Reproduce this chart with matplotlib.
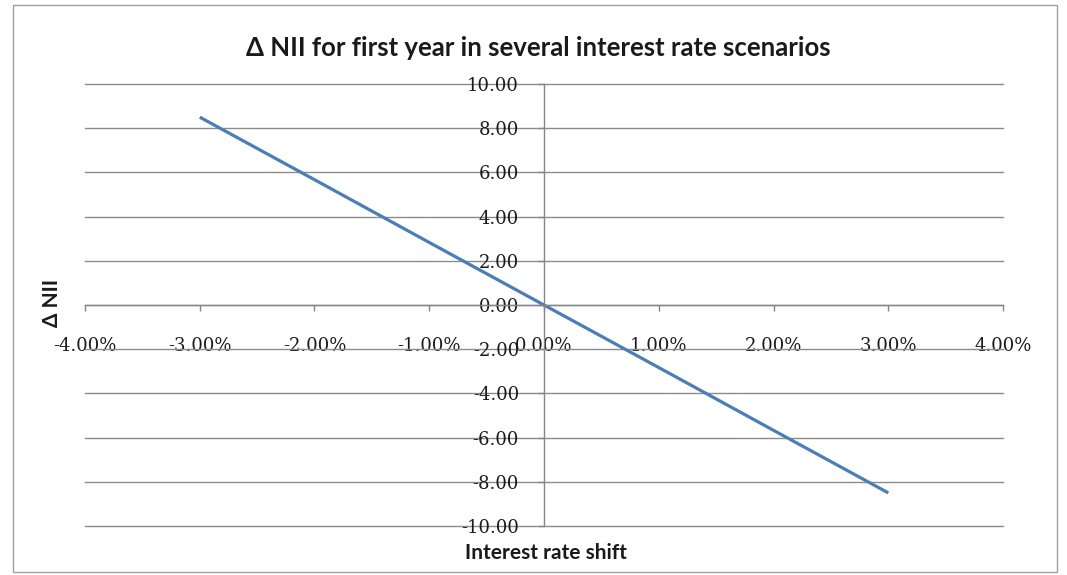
import matplotlib
matplotlib.use("Agg")
import matplotlib.pyplot as plt
from matplotlib.patches import Rectangle
from matplotlib.ticker import FuncFormatter, MultipleLocator

# interest rate shift (fraction) and change in net interest income
shifts = [-0.03, -0.02, -0.01, 0.0, 0.01, 0.02, 0.03]
delta_nii = [8.5, 5.67, 2.83, 0.0, -2.83, -5.67, -8.5]

title = "\u0394 NII for first year in several interest rate scenarios"
xlabel = "Interest rate shift"
ylabel = "\u0394 NII"

W, H = 1067, 575
fig = plt.figure(figsize=(W / 100, H / 100), dpi=100)
fig.patch.set_facecolor("white")

# plot area in pixels: x 85..1003, y 84..526
ax = fig.add_axes([85 / W, 1 - 526 / H, 918 / W, 442 / H])
ax.plot(shifts, delta_nii, color="#4A7EBB", lw=2.3, solid_capstyle="butt")

ax.set_xlim(-0.04, 0.04)
ax.set_ylim(-10, 10)
ax.xaxis.set_major_locator(MultipleLocator(0.01))
ax.yaxis.set_major_locator(MultipleLocator(2))
ax.xaxis.set_major_formatter(FuncFormatter(lambda v, p: f"{v * 100:.2f}%".replace("-0.00", "0.00")))
ax.yaxis.set_major_formatter(FuncFormatter(lambda v, p: f"{v:.2f}".replace("-0.00", "0.00")))

# excel style: axes crossing at zero
for s in ["top", "right"]:
    ax.spines[s].set_visible(False)
ax.spines["left"].set_position(("data", 0))
ax.spines["bottom"].set_position(("data", 0))
for s in ["left", "bottom"]:
    ax.spines[s].set_color("#868686")
    ax.spines[s].set_linewidth(1.0)

ax.yaxis.grid(True, color="#8c8c8c", lw=1.0)
for gl in ax.get_ygridlines():
    gl.set_clip_on(False)
ax.set_axisbelow(True)

ax.tick_params(axis="x", direction="out", length=4, width=1, color="#868686", pad=19)
ax.tick_params(axis="y", direction="out", length=4, width=1, color="#868686", pad=14)
for lab in ax.get_xticklabels() + ax.get_yticklabels():
    lab.set_fontfamily("DejaVu Serif")
    lab.set_fontsize(13)
    lab.set_color("#1a1a1a")

fig.text(538 / W, 1 - 48 / H, title, ha="center", va="center",
         fontsize=18.5, fontfamily="Lato", fontweight="bold", color="#1a1a1a")
fig.text(546 / W, 1 - 553 / H, xlabel, ha="center", va="center",
         fontsize=15, fontfamily="Lato", fontweight="bold", color="#1a1a1a")
fig.text(52 / W, 1 - 303 / H, ylabel, ha="center", va="center", rotation=90,
         fontsize=15, fontfamily="Lato", fontweight="bold", color="#1a1a1a")

# chart border
fig.add_artist(Rectangle((13 / W, 1 - 572 / H), (1057 - 13) / W, (572 - 5) / H,
                         transform=fig.transFigure, fill=False, ec="#a0a0a0", lw=1))

fig.savefig("out.png", dpi=100)
